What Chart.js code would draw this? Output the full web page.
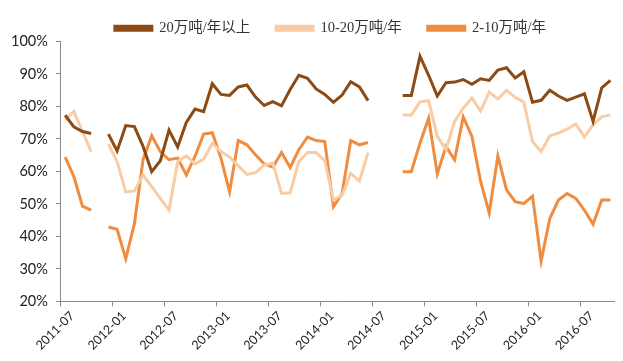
<!DOCTYPE html>
<html>
<head>
<meta charset="utf-8">
<script src="https://cdn.jsdelivr.net/npm/chart.js@4/dist/chart.umd.min.js"></script>
<style>
  html, body { margin: 0; padding: 0; background: #fff; }
  #wrap { width: 623px; height: 361px; }
</style>
</head>
<body>
<div id="wrap"><canvas id="chart" width="623" height="361"></canvas></div>
<script>
// months 2011-07 .. 2016-10
const months = [
  "2011-07","2011-08","2011-09","2011-10","2011-11","2011-12",
  "2012-01","2012-02","2012-03","2012-04","2012-05","2012-06",
  "2012-07","2012-08","2012-09","2012-10","2012-11","2012-12",
  "2013-01","2013-02","2013-03","2013-04","2013-05","2013-06",
  "2013-07","2013-08","2013-09","2013-10","2013-11","2013-12",
  "2014-01","2014-02","2014-03","2014-04","2014-05","2014-06",
  "2014-07","2014-08","2014-09","2014-10","2014-11","2014-12",
  "2015-01","2015-02","2015-03","2015-04","2015-05","2015-06",
  "2015-07","2015-08","2015-09","2015-10","2015-11","2015-12",
  "2016-01","2016-02","2016-03","2016-04","2016-05","2016-06",
  "2016-07","2016-08","2016-09","2016-10"
];

const seriesNames = ["20万吨/年以上", "10-20万吨/年", "2-10万吨/年"];
const seriesColors = ["#8c4a15", "#f8cca5", "#f08c40"];

// utilisation rate, %
const above20 = [
  77.3, 73.7, 72.3, 71.7, null, 71.5,
  66.3, 74.1, 73.8, 67.7, 59.9, 63.3,
  72.7, 67.5, 75.1, 79.2, 78.4, 87.0,
  83.7, 83.4, 86.0, 86.6, 82.9, 80.3,
  81.5, 80.2, 85.2, 89.6, 88.7, 85.4,
  83.7, 81.3, 83.5, 87.6, 86.0, 81.8,
  null, null, null, 83.4, 83.4, 95.5,
  89.6, 83.2, 87.3, 87.5, 88.3, 86.8,
  88.5, 88.0, 91.2, 91.9, 88.8, 90.7,
  81.3, 81.9, 85.0, 83.2, 81.9, 82.9,
  83.9, 75.4, 85.7, 88.0
];

const from10to20 = [
  75.9, 78.5, 72.3, 66.1, null, 68.5,
  63.0, 53.7, 54.0, 58.9, 55.3, 51.7,
  48.1, 63.0, 64.8, 62.3, 63.8, 68.6,
  66.1, 64.4, 61.7, 59.1, 59.6, 62.0,
  62.5, 53.2, 53.4, 63.0, 65.8, 65.8,
  63.3, 51.2, 52.7, 59.4, 57.0, 65.8,
  null, null, null, 77.4, 77.4, 81.4,
  81.8, 70.8, 66.7, 75.4, 79.5, 82.6,
  78.6, 84.4, 82.3, 85.0, 82.8, 81.3,
  69.2, 66.1, 71.0, 71.8, 73.0, 74.6,
  70.6, 74.4, 76.8, 77.4
];

const from2to10 = [
  64.4, 58.4, 49.3, 48.1, null, 42.9,
  42.2, 33.1, 43.9, 63.6, 71.0, 66.1,
  63.6, 64.1, 58.9, 64.6, 71.5, 71.9,
  64.1, 53.7, 69.5, 68.2, 65.1, 62.3,
  61.3, 65.8, 61.2, 66.7, 70.6, 69.5,
  69.2, 49.1, 53.2, 69.5, 68.2, 68.9,
  null, null, null, 59.9, 59.9, 68.7,
  76.4, 59.2, 67.7, 63.6, 76.8, 70.8,
  57.0, 47.2, 64.8, 54.3, 50.7, 50.1,
  52.4, 32.4, 45.5, 51.2, 53.2, 51.7,
  48.1, 43.7, 51.2, 51.2
];

const yTicks = [20, 30, 40, 50, 60, 70, 80, 90, 100];

function shownMonth(i) {
  const m = months[i];
  return m !== undefined && (m.endsWith("-01") || m.endsWith("-07"));
}

function makeSet(name, values, color) {
  return {
    label: name,
    data: values,
    borderColor: color,
    backgroundColor: color,
    borderWidth: 3,
    pointRadius: 0,
    tension: 0,
    spanGaps: false
  };
}

// wide gaps between legend items, but keep the legend box short
// and centre it over the plot area rather than the whole canvas
const legendTrim = {
  id: "legendTrim",
  afterInit(chart) {
    const origFit = chart.legend.fit;
    chart.legend.fit = function () {
      origFit.call(this);
      this.height -= 9;
    };
  },
  afterLayout(chart) {
    const lg = chart.legend;
    lg.left += 38;
    lg.top = -5;
  }
};

const axisColor = "#8a8a8a";
const labelFont = "Lato, 'Open Sans', sans-serif";

new Chart(document.getElementById("chart"), {
  type: "line",
  data: {
    labels: months,
    datasets: [
      makeSet(seriesNames[0], above20, seriesColors[0]),
      makeSet(seriesNames[1], from10to20, seriesColors[1]),
      makeSet(seriesNames[2], from2to10, seriesColors[2])
    ]
  },
  plugins: [legendTrim],
  options: {
    responsive: false,
    animation: false,
    layout: { padding: { top: 0, right: 3, left: 3, bottom: 6 } },
    plugins: {
      tooltip: { enabled: false },
      legend: {
        position: "top",
        labels: {
          boxWidth: 37,
          boxHeight: 4,
          padding: 26,
          color: "#333",
          font: { family: "'Liberation Serif', 'Noto Sans CJK SC', serif", size: 14.5 }
        }
      }
    },
    scales: {
      x: {
        type: "category",
        offset: true,
        border: { color: axisColor, width: 1 },
        grid: {
          offset: true,
          drawOnChartArea: false,
          drawTicks: true,
          tickLength: 5,
          color: (ctx) => shownMonth(ctx.index) ? axisColor : "rgba(0,0,0,0)"
        },
        ticks: {
          autoSkip: false,
          minRotation: 45,
          maxRotation: 45,
          padding: 2,
          labelOffset: 7,
          color: "#222",
          font: { family: labelFont, size: 12.5 },
          callback: function (v, i) { return shownMonth(i) ? months[i] : ""; }
        }
      },
      y: {
        min: 20,
        max: 100,
        afterBuildTicks: (scale) => { scale.ticks = yTicks.map(v => ({ value: v })); },
        border: { color: axisColor, width: 1 },
        grid: {
          drawOnChartArea: false,
          drawTicks: true,
          tickLength: 5,
          color: axisColor
        },
        ticks: {
          padding: 8,
          color: "#222",
          font: { family: labelFont, size: 14.5 },
          callback: (v) => v + "%"
        }
      }
    }
  }
});
</script>
</body>
</html>
